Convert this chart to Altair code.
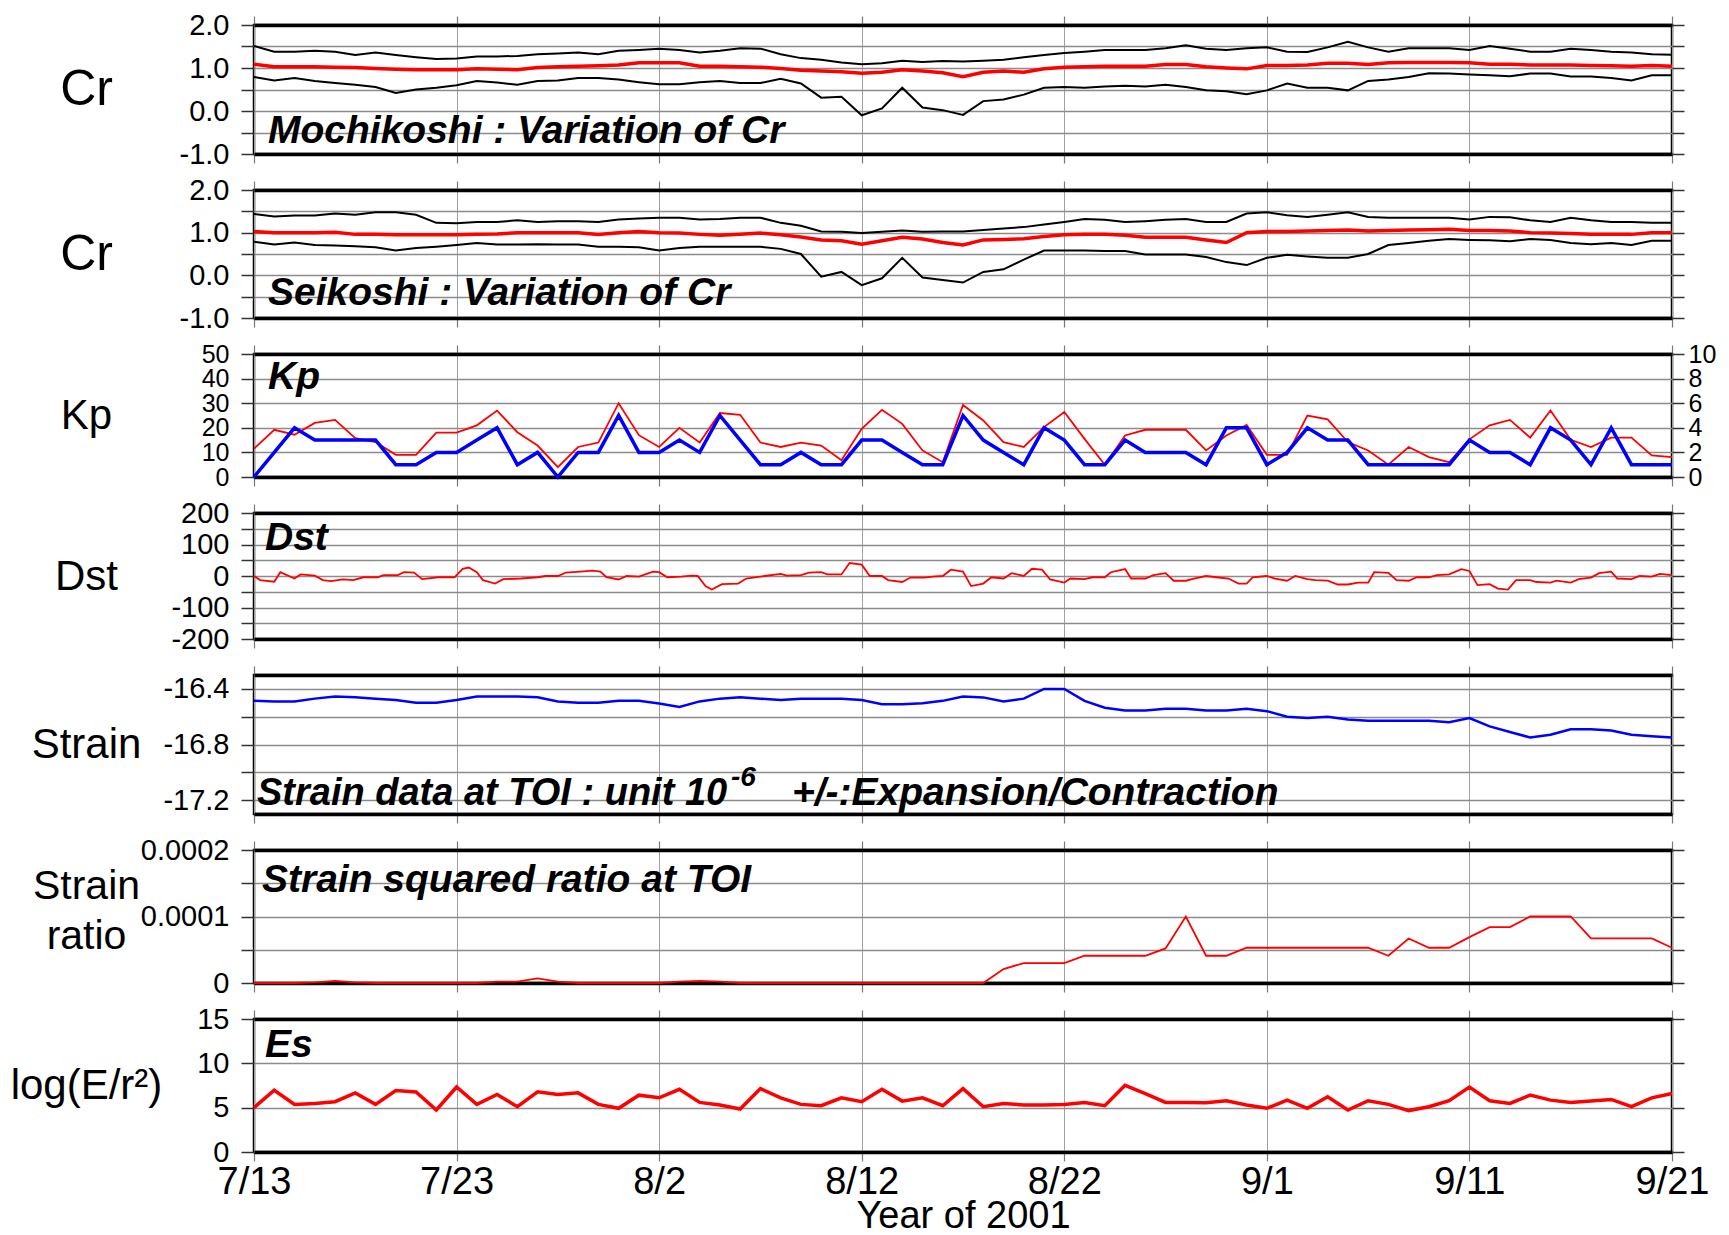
import altair as alt
import pandas as pd

# ---------------- data ----------------
DAYS = list(range(71))
DATE_TICKS = [0, 10, 20, 30, 40, 50, 60, 70]
DATE_LABELS = ["7/13", "7/23", "8/2", "8/12", "8/22", "9/1", "9/11", "9/21"]

MOCHI_UPPER = [1.51, 1.38, 1.38, 1.40, 1.38, 1.30, 1.36, 1.30, 1.25, 1.21, 1.22, 1.27, 1.27, 1.28, 1.32, 1.34,
               1.36, 1.32, 1.40, 1.42, 1.45, 1.42, 1.36, 1.40, 1.46, 1.45, 1.32, 1.23, 1.19, 1.13, 1.09,
               1.11, 1.17, 1.14, 1.16, 1.15, 1.17, 1.19, 1.25, 1.30, 1.35, 1.38, 1.42, 1.42, 1.42, 1.46,
               1.53, 1.45, 1.42, 1.46, 1.48, 1.38, 1.37, 1.48, 1.61, 1.48, 1.38, 1.46, 1.46, 1.46, 1.42,
               1.51, 1.45, 1.38, 1.38, 1.45, 1.42, 1.38, 1.36, 1.32, 1.31]
MOCHI_MEAN = [1.09, 1.03, 1.03, 1.03, 1.02, 1.01, 0.99, 0.97, 0.96, 0.96, 0.96, 0.98, 0.97, 0.96, 1.01, 1.03,
              1.04, 1.05, 1.07, 1.12, 1.12, 1.12, 1.04, 1.04, 1.03, 1.02, 0.99, 0.95, 0.93, 0.91, 0.88,
              0.90, 0.96, 0.93, 0.89, 0.80, 0.90, 0.93, 0.90, 0.98, 1.02, 1.03, 1.04, 1.04, 1.04, 1.08,
              1.08, 1.03, 1.00, 0.98, 1.06, 1.06, 1.07, 1.11, 1.11, 1.08, 1.12, 1.13, 1.13, 1.13, 1.12,
              1.09, 1.09, 1.07, 1.07, 1.07, 1.06, 1.05, 1.04, 1.06, 1.04]
MOCHI_LOWER = [0.79, 0.71, 0.77, 0.70, 0.65, 0.61, 0.56, 0.42, 0.50, 0.54, 0.60, 0.70, 0.66, 0.61, 0.70, 0.71,
               0.77, 0.77, 0.73, 0.67, 0.62, 0.62, 0.67, 0.70, 0.65, 0.65, 0.75, 0.64, 0.31, 0.33, -0.10,
               0.06, 0.54, 0.08, 0.02, -0.09, 0.23, 0.27, 0.38, 0.54, 0.56, 0.54, 0.57, 0.59, 0.57, 0.61,
               0.56, 0.48, 0.46, 0.39, 0.48, 0.64, 0.54, 0.54, 0.48, 0.70, 0.73, 0.79, 0.88, 0.87, 0.85,
               0.83, 0.81, 0.87, 0.87, 0.80, 0.80, 0.77, 0.71, 0.83, 0.83]

SEI_UPPER = [1.44, 1.38, 1.40, 1.40, 1.45, 1.42, 1.48, 1.48, 1.42, 1.23, 1.22, 1.25, 1.25, 1.29, 1.25, 1.27,
             1.27, 1.25, 1.31, 1.33, 1.35, 1.35, 1.31, 1.32, 1.35, 1.35, 1.23, 1.16, 1.03, 1.02, 0.99,
             1.02, 1.05, 1.02, 1.03, 1.03, 1.06, 1.10, 1.13, 1.19, 1.25, 1.32, 1.30, 1.25, 1.27, 1.30,
             1.32, 1.25, 1.25, 1.45, 1.48, 1.41, 1.37, 1.42, 1.48, 1.37, 1.35, 1.35, 1.35, 1.35, 1.31,
             1.37, 1.36, 1.29, 1.25, 1.35, 1.29, 1.25, 1.25, 1.23, 1.23]
SEI_MEAN = [1.03, 1.00, 1.00, 1.00, 1.01, 0.96, 0.96, 0.95, 0.95, 0.95, 0.95, 0.96, 0.97, 1.00, 1.00, 1.00,
            1.00, 0.96, 1.00, 1.03, 1.00, 0.99, 0.96, 0.94, 0.96, 0.99, 0.95, 0.90, 0.83, 0.81, 0.73,
            0.81, 0.89, 0.85, 0.77, 0.71, 0.83, 0.84, 0.86, 0.91, 0.95, 0.96, 0.96, 0.94, 0.89, 0.89,
            0.89, 0.83, 0.77, 1.00, 1.03, 1.03, 1.04, 1.05, 1.06, 1.04, 1.05, 1.06, 1.07, 1.08, 1.05,
            1.05, 1.04, 1.00, 0.99, 0.98, 0.96, 0.96, 0.96, 1.00, 1.00]
SEI_LOWER = [0.79, 0.72, 0.77, 0.71, 0.70, 0.68, 0.66, 0.58, 0.64, 0.67, 0.71, 0.76, 0.72, 0.72, 0.73, 0.72,
             0.72, 0.67, 0.67, 0.66, 0.58, 0.64, 0.67, 0.67, 0.67, 0.67, 0.62, 0.50, -0.03, 0.08, -0.23,
             -0.07, 0.41, -0.05, -0.11, -0.17, 0.08, 0.14, 0.37, 0.58, 0.58, 0.58, 0.57, 0.57, 0.49, 0.49,
             0.49, 0.43, 0.31, 0.24, 0.41, 0.48, 0.44, 0.41, 0.41, 0.50, 0.71, 0.76, 0.81, 0.85, 0.83,
             0.82, 0.80, 0.85, 0.83, 0.76, 0.73, 0.76, 0.71, 0.81, 0.81]

KP_SUM = [11.5, 19.2, 17.2, 22, 23.2, 15.8, 14.2, 9, 9, 18, 18, 21, 27, 18.2, 12.8, 4, 12.2, 14, 30, 17,
          12.2, 20, 14, 26, 25.3, 14, 12.2, 14, 12.8, 6.8, 19.6, 27.3, 21.6,
          10.8, 6, 29.3, 23, 14.2, 12.2, 20.3, 26.4, 15.5, 5, 16.9, 19.2, 19.2, 19.2, 10.8, 16.9, 21.2,
          9, 9, 25, 23.4, 14.2, 10.8, 5, 12.2, 8.1, 6, 15.3, 21, 23.2, 16, 27, 15.1, 12.2, 16, 16, 8.8, 8.1]
KP_MAX = [0, 2, 4, 3, 3, 3, 3, 1, 1, 2, 2, 3, 4, 1, 2, 0, 2, 2, 5, 2, 2, 3, 2, 5, 3, 1, 1, 2, 1, 1, 3, 3, 2,
          1, 1, 5, 3, 2, 1, 4, 3, 1, 1, 3, 2, 2, 2, 1, 4, 4, 1, 2, 4, 3, 3, 1, 1, 1, 1, 1, 3, 2, 2, 1, 4,
          3, 1, 4, 1, 1, 1]

DST_DAY = [0, 0.3, 1, 1.3, 2, 2.3, 3, 3.4, 3.8, 4.4, 4.9, 5.4, 6.1, 6.4, 7.1, 7.4, 7.9, 8.3, 9.1, 9.9,
           10.3, 10.6, 11, 11.3, 11.9, 12.3, 13.2, 14, 14.4, 15, 15.4, 16.1, 16.7, 17.1, 17.4, 18, 18.4,
           19, 19.7, 20, 20.4, 21.1, 21.6, 21.9, 22.3, 22.6, 23.1, 23.9, 24.3, 25.2, 26, 26.3, 27, 27.4,
           28, 28.3, 29, 29.4, 30, 30.4, 31, 31.3, 32, 32.4, 33.1, 33.5, 34, 34.4, 35, 35.4, 36, 36.4,
           37, 37.4, 38, 38.4, 38.9, 39.3, 40, 40.3, 41, 41.4, 42, 42.3, 43, 43.3, 44, 44.4, 45, 45.4,
           46, 46.4, 47, 47.5, 48.1, 48.6, 49, 49.3, 50, 50.4, 51, 51.4, 52, 52.4, 53, 53.5, 54, 54.5,
           55, 55.3, 56, 56.4, 57, 57.4, 58, 58.4, 59, 59.6, 60, 60.4, 61, 61.4, 61.9, 62.3, 63, 63.3,
           64, 64.3, 65, 65.4, 66, 66.4, 67, 67.3, 68, 68.4, 69, 69.4, 70]
DST_VAL = [0, -13, -18, 12, -8, 5, 1, -13, -16, -11, -13, -4, -4, 3, 3, 12, 11, -10, -4, -4,
           23, 27, 12, -13, -24, -10, -8, -4, 0, 0, 11, 14, 17, 14, -4, -11, 0,
           -2, 14, 12, -4, -2, 1, 0, -33, -43, -26, -24, -8, 0, 7, 1, 3, 11,
           12, 5, 5, 41, 36, 0, 0, -13, -19, -5, -5, -2, 0, 20, 14, -32, -24, -4,
           -8, 9, 0, 23, 20, -11, -21, -8, -10, -4, -4, 12, 22, -8, -8, 3, 9, -15,
           -15, -8, 0, -4, -8, -24, -24, -4, 0, -8, -15, 0, -10, -13, -15, -27, -27, -21,
           -21, 12, 10, -13, -15, -4, -4, 3, 5, 22, 16, -29, -26, -40, -43, -13, -13, -19,
           -21, -15, -21, -10, -5, 9, 14, -8, -10, 0, -2, 7, 3]

STRAIN = [-16.486, -16.49, -16.49, -16.47, -16.454, -16.46, -16.47, -16.48, -16.50, -16.50, -16.48,
          -16.454, -16.454, -16.454, -16.46, -16.49, -16.50, -16.50, -16.486, -16.486, -16.505, -16.53,
          -16.49, -16.47, -16.46, -16.47, -16.48, -16.47, -16.47, -16.47, -16.48, -16.51, -16.51,
          -16.503, -16.486, -16.454, -16.461, -16.49, -16.47, -16.40, -16.40, -16.486, -16.535, -16.555,
          -16.555, -16.542, -16.542, -16.555, -16.555, -16.542, -16.56, -16.60, -16.61, -16.60, -16.62,
          -16.63, -16.63, -16.63, -16.63, -16.64, -16.61, -16.67, -16.71, -16.75, -16.73, -16.69, -16.69,
          -16.70, -16.73, -16.74, -16.75]

RATIO = [0, 0, 0, 1e-6, 3e-6, 1e-6, 0, 0, 0, 0, 0, 0, 2e-6, 2e-6, 7e-6, 2e-6, 0, 0, 0, 0, 0, 2e-6, 3e-6,
         2e-6, 0, 0, 0, 0, 0, 0, 0, 0, 0, 0, 0, 0,
         0, 2.1e-5, 3.0e-5, 3.0e-5, 3.0e-5, 4.1e-5, 4.1e-5, 4.1e-5, 4.1e-5, 5.2e-5, 1.0e-4, 4.1e-5, 4.1e-5,
         5.3e-5, 5.3e-5, 5.3e-5, 5.3e-5, 5.3e-5, 5.3e-5, 5.3e-5, 4.1e-5, 6.7e-5, 5.3e-5, 5.3e-5, 6.9e-5,
         8.4e-5, 8.4e-5, 1.0e-4, 1.0e-4, 1.0e-4, 6.7e-5, 6.7e-5, 6.7e-5, 6.7e-5, 5.3e-5]

ES = [5.0, 6.96, 5.37, 5.48, 5.67, 6.67, 5.37, 6.93, 6.78, 4.74, 7.33, 5.37, 6.48, 5.11, 6.78, 6.48, 6.67,
      5.37, 4.93, 6.41, 6.11, 7.07, 5.59, 5.30, 4.85, 7.15, 6.11, 5.37, 5.22, 6.11, 5.67, 7.07, 5.74,
      6.11, 5.22, 7.15, 5.11, 5.48, 5.30, 5.30, 5.37, 5.59, 5.22, 7.52, 6.59, 5.59, 5.59, 5.56, 5.78,
      5.30, 4.93, 5.85, 4.93, 6.22, 4.74, 5.78, 5.37, 4.67, 5.11, 5.78, 7.33, 5.78, 5.48, 6.41, 5.85,
      5.59, 5.74, 5.93, 5.11, 6.11, 6.59]

PANEL_TEXT = ["Mochikoshi : Variation of Cr", "Seikoshi : Variation of Cr", "Kp", "Dst",
              "Strain data at TOI : unit 10", "-6", "+/-:Expansion/Contraction",
              "Strain squared ratio at TOI", "Es"]
Y_TITLES = ["Cr", "Cr", "Kp", "Dst", "Strain", ["Strain", "ratio"], "log(E/r\u00b2)"]
X_TITLE = "Year of 2001"

# ---------------- style ----------------
FONT = "Liberation Sans"
W = 1418
HEIGHTS = [129, 128, 123, 126, 139, 133, 133]
TITLE_X = -168
GRID_H = "#8c8c8c"
GRID_V = "#a0a0a0"
MINUS = "\u2212"

XS = alt.Scale(domain=[0, 70], nice=False, zero=False)
X_LABEL_EXPR = "[" + ",".join("'%s'" % s for s in DATE_LABELS) + "][round(datum.value/10)]"


def hyphen(fmt):
    return "replace(format(datum.value, '%s'), '%s', '-')" % (fmt, MINUS)


def x_bottom(field="day:Q", show=False):
    kw = dict(orient="bottom", values=DATE_TICKS, labels=show, labelExpr=X_LABEL_EXPR,
              labelFontSize=38, labelPadding=2, labelFlush=False, labelOverlap=False,
              ticks=True, tickSize=9, tickColor="#777777", tickWidth=1.2,
              grid=True, gridColor=GRID_V, gridWidth=1,
              domain=True, domainColor="black", domainWidth=3.5)
    if show:
        kw.update(title=X_TITLE, titleFontSize=38, titlePadding=-4)
        return alt.X(field, scale=XS, axis=alt.Axis(**kw))
    return alt.X(field, scale=XS, axis=alt.Axis(**kw), title=None)


def x_top(field="day:Q"):
    return alt.X(field, scale=XS, title=None,
                 axis=alt.Axis(orient="top", values=DATE_TICKS, labels=False, ticks=True, tickSize=9,
                               tickColor="#777777", tickWidth=1.2, grid=False,
                               domain=True, domainColor="black", domainWidth=3.5))


def x_plain(field="day:Q"):
    return alt.X(field, scale=XS, axis=None)


def y_left(field, domain, values, label_expr, title, tsize, title_y, lsize=29):
    return alt.Y(field, scale=alt.Scale(domain=domain, nice=False, zero=False),
                 axis=alt.Axis(orient="left", values=values, labelExpr=label_expr,
                               labelFontSize=lsize, labelPadding=12, labelFlush=False, labelOverlap=False,
                               ticks=True, tickSize=13, tickColor="#333333", tickWidth=1.5,
                               grid=True, gridColor=GRID_H, gridWidth=1.6, domain=False,
                               title=title, titleFontSize=tsize, titleAngle=0, titleAlign="center",
                               titleBaseline="middle", titleX=TITLE_X, titleY=title_y,
                               titleLineHeight=50))


def y_right(field, domain, values, labels=False, lsize=29):
    return alt.Y(field, scale=alt.Scale(domain=domain, nice=False, zero=False), title=None,
                 axis=alt.Axis(orient="right", values=values, labels=labels, ticks=True, tickSize=12,
                               tickColor="#333333", tickWidth=1.5, grid=False, domain=False,
                               labelFontSize=lsize, labelPadding=4, labelFlush=False,
                               labelOverlap=False))


def y_plain(field, domain):
    return alt.Y(field, scale=alt.Scale(domain=domain, nice=False, zero=False), axis=None)


def text_layer(txt, x, y, size=39):
    return alt.Chart(pd.DataFrame({"t": [txt]})).mark_text(
        font=FONT, fontSize=size, fontWeight="bold", fontStyle="italic",
        align="left", baseline="alphabetic", color="black"
    ).encode(text="t:N", x=alt.value(x), y=alt.value(y))


def cr_panel(upper, mean, lower, title, label, h, text_y):
    df = pd.DataFrame({"day": DAYS, "upper": upper, "mean": mean, "lower": lower})
    base = alt.Chart(df)
    dom = [-1, 2]
    vals = [-1, -0.5, 0, 0.5, 1, 1.5, 2]
    expr = "datum.value % 1 == 0 ? " + hyphen(".1f") + " : ''"
    up = base.mark_line(color="black", strokeWidth=2).encode(
        x=x_bottom(), y=y_left("upper:Q", dom, vals, expr, title, 50, h / 2))
    lo = base.mark_line(color="black", strokeWidth=2).encode(x=x_plain(), y=y_plain("lower:Q", dom))
    me = base.mark_line(color="#ff0000", strokeWidth=3.5).encode(x=x_plain(), y=y_plain("mean:Q", dom))
    fr = base.mark_line(opacity=0).encode(x=x_top(), y=y_right("upper:Q", dom, vals))
    tx = text_layer(label, 14, text_y)
    return alt.layer(up, lo, me, fr, tx).resolve_axis(x="independent", y="independent").properties(
        width=W, height=h)


# Panel 1 & 2
p1 = cr_panel(MOCHI_UPPER, MOCHI_MEAN, MOCHI_LOWER, Y_TITLES[0], PANEL_TEXT[0], HEIGHTS[0], HEIGHTS[0] - 11)
p2 = cr_panel(SEI_UPPER, SEI_MEAN, SEI_LOWER, Y_TITLES[1], PANEL_TEXT[1], HEIGHTS[1], HEIGHTS[1] - 13)

# Kp
h = HEIGHTS[2]
kp_df = pd.DataFrame({"day": DAYS, "sum": KP_SUM, "max": KP_MAX})
kb = alt.Chart(kp_df)
kp_red = kb.mark_line(color="#ff0000", strokeWidth=1.8).encode(
    x=x_bottom(), y=y_left("sum:Q", [0, 50], [0, 10, 20, 30, 40, 50], "datum.label", Y_TITLES[2], 42, h / 2,
                           lsize=25))
kp_blue = kb.mark_line(color="#0000ff", strokeWidth=3.5).encode(
    x=x_top(), y=y_right("max:Q", [0, 10], [0, 2, 4, 6, 8, 10], labels=True, lsize=25))
p3 = alt.layer(kp_red, kp_blue, text_layer(PANEL_TEXT[2], 14, 35)).resolve_scale(
    y="independent").resolve_axis(x="independent", y="independent").properties(width=W, height=h)

# Dst
h = HEIGHTS[3]
dst_df = pd.DataFrame({"day": DST_DAY, "dst": DST_VAL})
db = alt.Chart(dst_df)
dvals = [-200, -150, -100, -50, 0, 50, 100, 150, 200]
dst_line = db.mark_line(color="#ff0000", strokeWidth=1.8).encode(
    x=x_bottom(), y=y_left("dst:Q", [-200, 200], dvals, "datum.value % 100 == 0 ? " + hyphen("d") + " : ''",
                           Y_TITLES[3], 42, h / 2))
dst_fr = db.mark_line(opacity=0).encode(x=x_top(), y=y_right("dst:Q", [-200, 200], dvals))
p4 = alt.layer(dst_line, dst_fr, text_layer(PANEL_TEXT[3], 11, 37)).resolve_axis(
    x="independent", y="independent").properties(width=W, height=h)

# Strain
h = HEIGHTS[4]
st_df = pd.DataFrame({"day": DAYS, "strain": STRAIN})
sb = alt.Chart(st_df)
svals = [-17.2, -17.0, -16.8, -16.6, -16.4]
sexpr = ("(abs(datum.value + 16.6) < 0.01 || abs(datum.value + 17.0) < 0.01) ? '' : " + hyphen(".1f"))
st_line = sb.mark_line(color="#0000ff", strokeWidth=2.5).encode(
    x=x_bottom(), y=y_left("strain:Q", [-17.3, -16.3], svals, sexpr, Y_TITLES[4], 42, h / 2))
st_fr = sb.mark_line(opacity=0).encode(x=x_top(), y=y_right("strain:Q", [-17.3, -16.3], svals))
p5 = alt.layer(st_line, st_fr,
               text_layer(PANEL_TEXT[4], 3, h - 9, size=38),
               text_layer(PANEL_TEXT[5], 477, h - 28, size=28),
               text_layer(PANEL_TEXT[6], 538, h - 9)).resolve_axis(
    x="independent", y="independent").properties(width=W, height=h)

# Strain ratio
h = HEIGHTS[5]
ra_df = pd.DataFrame({"day": DAYS, "ratio": RATIO})
rb = alt.Chart(ra_df)
rvals = [0, 0.00005, 0.0001, 0.00015, 0.0002]
rexpr = ("abs(datum.value) < 1e-9 ? '0' : (abs(datum.value - 0.0001) < 1e-9 ? '0.0001' : "
         "(abs(datum.value - 0.0002) < 1e-9 ? '0.0002' : ''))")
ra_line = rb.mark_line(color="#ff0000", strokeWidth=1.8).encode(
    x=x_bottom(), y=y_left("ratio:Q", [0, 0.0002], rvals, rexpr, Y_TITLES[5], 41, 36))
ra_fr = rb.mark_line(opacity=0).encode(x=x_top(), y=y_right("ratio:Q", [0, 0.0002], rvals))
p6 = alt.layer(ra_line, ra_fr, text_layer(PANEL_TEXT[7], 8, 42)).resolve_axis(
    x="independent", y="independent").properties(width=W, height=h)

# Es
h = HEIGHTS[6]
es_df = pd.DataFrame({"day": DAYS, "es": ES})
eb = alt.Chart(es_df)
evals = [0, 5, 10, 15]
es_line = eb.mark_line(color="#ff0000", strokeWidth=3.5).encode(
    x=x_bottom(show=True), y=y_left("es:Q", [0, 15], evals, "datum.label", Y_TITLES[6], 42, h / 2))
es_fr = eb.mark_line(opacity=0).encode(x=x_top(), y=y_right("es:Q", [0, 15], evals))
p7 = alt.layer(es_line, es_fr, text_layer(PANEL_TEXT[8], 11, 38)).resolve_axis(
    x="independent", y="independent").properties(width=W, height=h)

chart = alt.vconcat(p1, p2, p3, p4, p5, p6, p7, spacing=36, bounds="flush").properties(
    padding={"left": 8, "top": 9, "right": 5, "bottom": 0}, background="white"
).configure(font=FONT).configure_view(stroke="black", strokeWidth=2.5).configure_axis(
    labelFont=FONT, titleFont=FONT, labelColor="black", titleColor="black", titleFontWeight="normal"
)

chart.save("out.html", embed_options={"renderer": "svg", "actions": False})
